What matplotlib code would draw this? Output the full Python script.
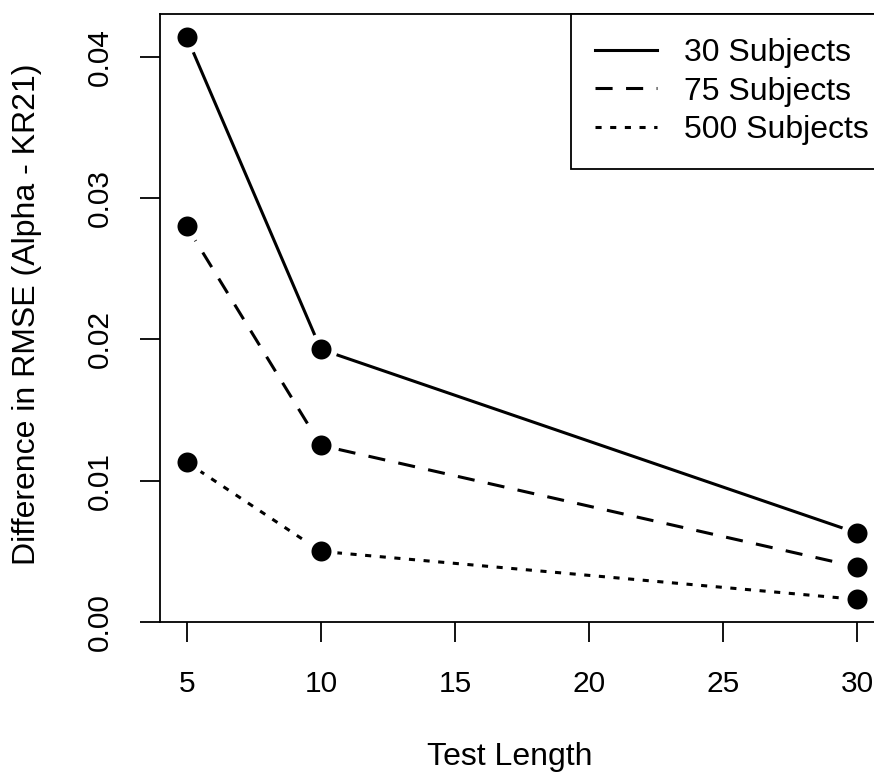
import numpy as np
import matplotlib.pyplot as plt

plt.rcParams['font.family'] = ['Liberation Sans', 'DejaVu Sans']

#%% Data
test_length = [5, 10, 30]
labels = ["30 Subjects", "75 Subjects", "500 Subjects"]
rmse_30 = [0.0414, 0.0193, 0.0063]
rmse_75 = [0.0280, 0.0125, 0.0039]
rmse_500 = [0.0113, 0.0050, 0.0016]

series = [rmse_30, rmse_75, rmse_500]
styles = ['-', (0, (5.6, 4.4)), (0, (2.0, 2.8))]

#%% Plot
fig = plt.figure(figsize=(8.74, 7.74), dpi=100)
# plot region runs slightly past the right edge, as in the original
ax = fig.add_axes([160 / 874, 152 / 774, 724 / 874, 608 / 774])

fs_tick = 21.5
fs_lab = 23
for y, ls, lab in zip(series, styles, labels):
    ax.plot(test_length, y, color='black', lw=2.2, linestyle=ls, label=lab)
    # white ring leaves the small gap R's type="b" gives around points
    ax.plot(test_length, y, linestyle='none', marker='o', ms=18.7,
            mfc='black', mec='white', mew=4.3)

ax.set_xlim(4, 31)
ax.set_ylim(0, 0.04304)
ax.set_xticks([5, 10, 15, 20, 25, 30])
ax.set_yticks([0.00, 0.01, 0.02, 0.03, 0.04])
ax.set_yticklabels(["0.00", "0.01", "0.02", "0.03", "0.04"],
                   rotation=90, va='center')

ax.tick_params(axis='both', length=14.4, width=1.3, labelsize=fs_tick,
               direction='out', color='black')
ax.tick_params(axis='x', pad=20)
ax.tick_params(axis='y', pad=19)
for s in ax.spines.values():
    s.set_linewidth(1.3)

fig.text(510 / 874, 1 - 757 / 774, "Test Length", fontsize=fs_lab,
         ha='center', va='center')
fig.text(27 / 874, 1 - 314 / 774, "Difference in RMSE (Alpha - KR21)",
         fontsize=fs_lab, ha='center', va='center', rotation=90)

leg = ax.legend(loc='upper right', bbox_to_anchor=(1.012, 1), borderaxespad=0,
                fontsize=fs_lab, frameon=True, fancybox=False,
                edgecolor='black', framealpha=1, handlelength=1.92,
                handletextpad=0.85, labelspacing=0.26, borderpad=0.76)
leg.get_frame().set_linewidth(1.3)

fig.savefig("out.png", dpi=100)
